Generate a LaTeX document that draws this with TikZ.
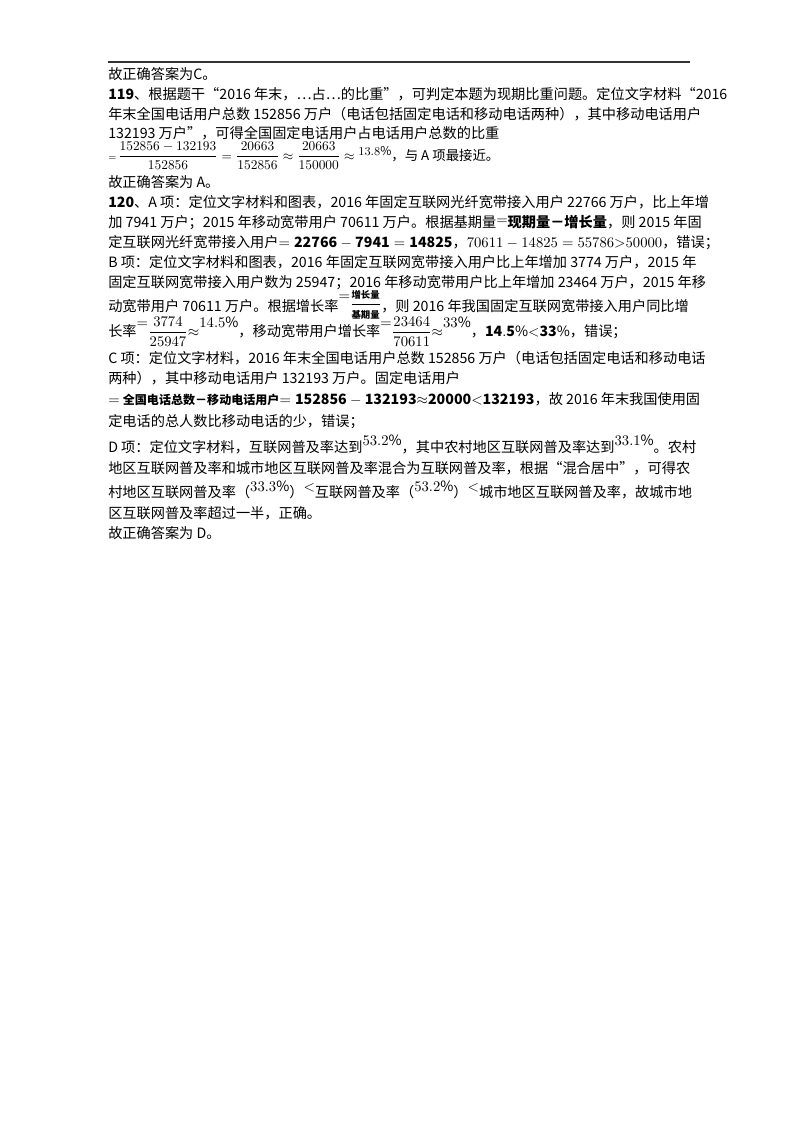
\documentclass[tikz,border=0pt]{standalone}
\usepackage{amsmath}
\usepackage{fontspec}
\setmainfont{Noto Sans CJK SC}
\newfontfamily\lm{Latin Modern Roman}
\begin{document}
\begin{tikzpicture}[x=0.02625cm,y=-0.02625cm,
  ln/.style={anchor=base west,inner sep=0pt,font=\fontsize{10.6}{12}\selectfont}]
\useasboundingbox[fill=white] (0,0) rectangle (800,1132);
\draw[line width=1.2pt,black!80] (108,62) -- (690,62);
\node[ln] (l1) at (108,79) {故正确答案为C。};
\node[ln] (l2) at (108,99) {\textbf{119}、根据题干“2016 年末，…占…的比重”，可判定本题为现期比重问题。定位文字材料“2016};
\node[ln] (l3) at (108,119) {年末全国电话用户总数 152856 万户（电话包括固定电话和移动电话两种），其中移动电话用户};
\node[ln] (l4) at (108,138) {132193 万户”，可得全国固定电话用户占电话用户总数的比重};
\node[ln] (l5) at (108,160) {\scriptsize$=$\,\normalsize$\dfrac{152856-132193}{152856}=\dfrac{20663}{152856}\approx\dfrac{20663}{150000}\approx\raisebox{3pt}{\small$13.8\%$}$，与 A 项最接近。};
\node[ln] (l6) at (108,187) {故正确答案为 A。};
\node[ln] (l7) at (108,207) {\textbf{120}、A 项：定位文字材料和图表，2016 年固定互联网光纤宽带接入用户 22766 万户，比上年增};
\node[ln] (l8) at (108,227) {加 7941 万户；2015 年移动宽带用户 70611 万户。根据基期量\raisebox{2pt}{$=$}\textbf{现期量－增长量}，则 2015 年固};
\node[ln] (l9) at (108,247) {定互联网光纤宽带接入用户$=\mathbf{22766-7941=14825}$，$70611-14825=55786{>}50000$，错误；};
\node[ln] (l10) at (108,267) {B 项：定位文字材料和图表，2016 年固定互联网宽带接入用户比上年增加 3774 万户，2015 年};
\node[ln] (l11) at (108,287) {固定互联网宽带接入用户数为 25947；2016 年移动宽带用户比上年增加 23464 万户，2015 年移};
\node[ln] (l12) at (108,311) {动宽带用户 70611 万户。根据增长率\raisebox{8pt}{$=$}\raisebox{2pt}{$\dfrac{\text{\scriptsize\textbf{增长量}}}{\text{\scriptsize\textbf{基期量}}}$}，则 2016 年我国固定互联网宽带接入用户同比增};
\node[ln] (l13) at (108,336) {长率\raisebox{6pt}{$=$}$\dfrac{3774}{25947}{\approx}\raisebox{6pt}{$14.5\%$}$，移动宽带用户增长率\raisebox{6pt}{$=$}$\dfrac{23464}{70611}{\approx}\raisebox{6pt}{$33\%$}$，$\mathbf{14.5\%{<}33\%}$，错误；};
\node[ln] (l14) at (108,363) {C 项：定位文字材料，2016 年末全国电话用户总数 152856 万户（电话包括固定电话和移动电话};
\node[ln] (l15) at (108,383) {两种），其中移动电话用户 132193 万户。固定电话用户};
\node[ln] (l16) at (108,404) {$=$ {\small\textbf{全国电话总数－移动电话用户}}$=\mathbf{152856-132193{\approx}20000{<}132193}$，故 2016 年末我国使用固};
\node[ln] (l17) at (108,426) {定电话的总人数比移动电话的少，错误；};
\node[ln] (l18) at (108,452) {D 项：定位文字材料，互联网普及率达到\raisebox{5pt}{$53.2\%$}，其中农村地区互联网普及率达到\raisebox{5pt}{$33.1\%$}。农村};
\node[ln] (l19) at (108,473) {地区互联网普及率和城市地区互联网普及率混合为互联网普及率，根据“混合居中”，可得农};
\node[ln] (l20) at (108,497) {村地区互联网普及率（\raisebox{4pt}{$33.3\%$}）\raisebox{4pt}{$<$}互联网普及率（\raisebox{4pt}{$53.2\%$}）\raisebox{4pt}{$<$}城市地区互联网普及率，故城市地};
\node[ln] (l21) at (108,518) {区互联网普及率超过一半，正确。};
\node[ln] (l22) at (108,538) {故正确答案为 D。};
\end{tikzpicture}
\end{document}
